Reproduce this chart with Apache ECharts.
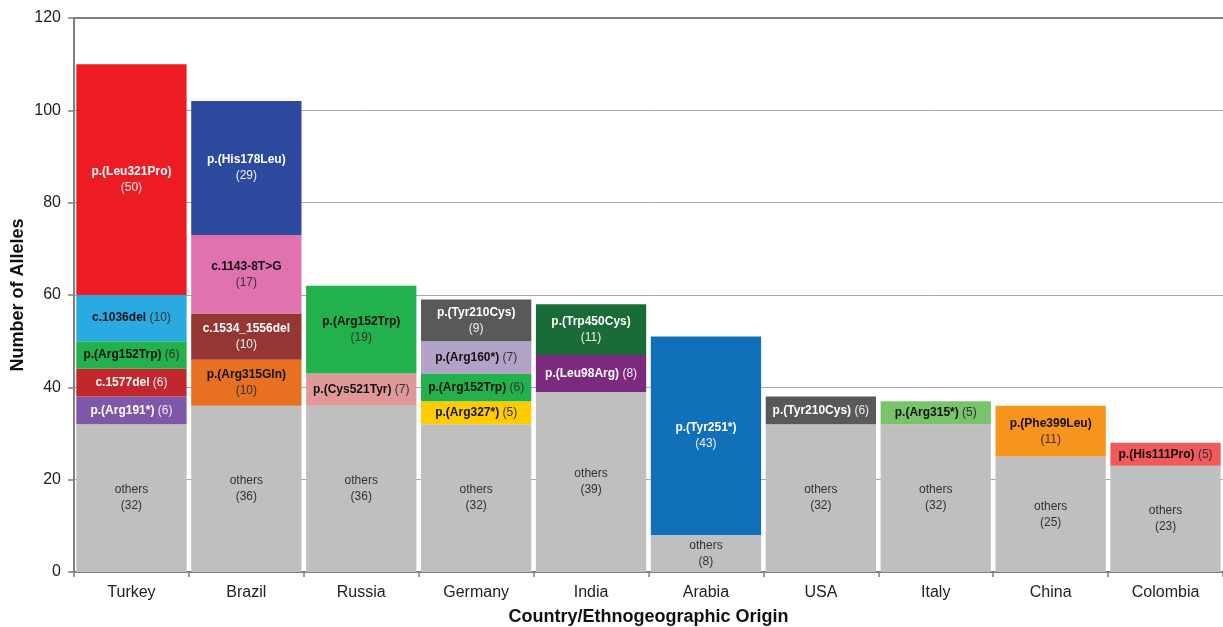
<!DOCTYPE html>
<html>
<head>
<meta charset="utf-8">
<script src="https://cdn.jsdelivr.net/npm/echarts@6/dist/echarts.min.js"></script>
<style>
  html, body { margin: 0; padding: 0; background: #fff; }
  #chart { width: 1223px; height: 627px; }
</style>
</head>
<body>
<div id="chart"></div>
<script>
// Allele counts by country; variants listed bottom-to-top above the "others" block
const countries = ['Turkey', 'Brazil', 'Russia', 'Germany', 'India', 'Arabia', 'USA', 'Italy', 'China', 'Colombia'];
const othersCounts = [32, 36, 36, 32, 39, 8, 32, 32, 25, 23];
const variantNames = [
  ['p.(Arg191*)', 'c.1577del', 'p.(Arg152Trp)', 'c.1036del', 'p.(Leu321Pro)'],
  ['p.(Arg315Gln)', 'c.1534_1556del', 'c.1143-8T>G', 'p.(His178Leu)'],
  ['p.(Cys521Tyr)', 'p.(Arg152Trp)'],
  ['p.(Arg327*)', 'p.(Arg152Trp)', 'p.(Arg160*)', 'p.(Tyr210Cys)'],
  ['p.(Leu98Arg)', 'p.(Trp450Cys)'],
  ['p.(Tyr251*)'],
  ['p.(Tyr210Cys)'],
  ['p.(Arg315*)'],
  ['p.(Phe399Leu)'],
  ['p.(His111Pro)']
];
const variantCounts = [
  [6, 6, 6, 10, 50],
  [10, 10, 17, 29],
  [7, 19],
  [5, 6, 7, 9],
  [8, 11],
  [43],
  [6],
  [5],
  [11],
  [5]
];
const yTicks = [0, 20, 40, 60, 80, 100, 120];

// Fill colour per variant, and which variants carry light text
const othersColor = '#BFBFBF';
const variantColors = {
  'p.(Leu321Pro)': '#ED1C24',
  'c.1036del': '#29ABE2',
  'p.(Arg152Trp)': '#22B14C',
  'c.1577del': '#C1272D',
  'p.(Arg191*)': '#7E57A8',
  'p.(His178Leu)': '#2E4A9E',
  'c.1143-8T>G': '#E072B0',
  'c.1534_1556del': '#943634',
  'p.(Arg315Gln)': '#E87022',
  'p.(Cys521Tyr)': '#E0999A',
  'p.(Tyr210Cys)': '#595959',
  'p.(Arg160*)': '#B3A2C7',
  'p.(Arg327*)': '#FFCC00',
  'p.(Trp450Cys)': '#196B38',
  'p.(Leu98Arg)': '#7D2A7E',
  'p.(Tyr251*)': '#1170BA',
  'p.(Arg315*)': '#77C46A',
  'p.(Phe399Leu)': '#F7941D',
  'p.(His111Pro)': '#F05A5B'
};
const lightText = new Set([
  'p.(Leu321Pro)', 'c.1577del', 'p.(Arg191*)', 'p.(His178Leu)', 'c.1534_1556del',
  'p.(Tyr210Cys)', 'p.(Trp450Cys)', 'p.(Leu98Arg)', 'p.(Tyr251*)'
]);

const FONT = '"Liberation Sans", Arial, Helvetica, sans-serif';

function variantItem(name, count) {
  const light = lightText.has(name);
  const wrap = count >= 9 && name.length > 9;
  const text = '{b|' + name + '}' + (wrap ? '\n' : ' ') + '{n|(' + count + ')}';
  return {
    value: count,
    name: name,
    itemStyle: { color: variantColors[name] },
    label: {
      show: true,
      position: 'inside',
      formatter: () => text,
      rich: {
        b: { fontFamily: FONT, fontSize: 12, fontWeight: 'bold', color: light ? '#ffffff' : '#111111', lineHeight: 16 },
        n: { fontFamily: FONT, fontSize: 12, color: light ? '#eeeeee' : '#333333', lineHeight: 16 }
      }
    }
  };
}

const maxLayers = Math.max(...variantNames.map(v => v.length));
const series = [];

series.push({
  type: 'bar',
  stack: 'alleles',
  barCategoryGap: '4%',
  data: othersCounts.map(c => ({
    value: c,
    itemStyle: { color: othersColor },
    label: {
      show: true,
      position: 'inside',
      formatter: () => '{o|others}\n{o|(' + c + ')}',
      rich: { o: { fontFamily: FONT, fontSize: 12, color: '#333333', lineHeight: 16 } }
    }
  }))
});

for (let k = 0; k < maxLayers; k++) {
  series.push({
    type: 'bar',
    stack: 'alleles',
    barCategoryGap: '4%',
    data: countries.map((_, i) =>
      k < variantNames[i].length ? variantItem(variantNames[i][k], variantCounts[i][k]) : '-'
    )
  });
}

const chart = echarts.init(document.getElementById('chart'));
chart.setOption({
  animation: false,
  backgroundColor: '#ffffff',
  grid: { left: 74, right: 0, top: 18, bottom: 55, outerBoundsMode: 'none', containLabel: false },
  xAxis: [
    {
      type: 'category',
      data: countries,
      axisLine: { lineStyle: { color: '#808080', width: 2 } },
      axisTick: { show: true, length: 5, lineStyle: { color: '#808080', width: 1.5 } },
      axisLabel: { fontFamily: FONT, fontSize: 16, color: '#222', margin: 13 },
      name: 'Country/Ethnogeographic Origin',
      nameLocation: 'middle',
      nameGap: 36,
      nameMoveOverlap: false,
      nameTextStyle: { fontFamily: FONT, fontSize: 18, fontWeight: 'bold', color: '#111' }
    },
    {
      type: 'category',
      position: 'top',
      data: countries,
      axisLine: { show: true, lineStyle: { color: '#808080', width: 2 } },
      axisTick: { show: false },
      axisLabel: { show: false }
    }
  ],
  yAxis: {
    type: 'value',
    min: yTicks[0],
    max: yTicks[yTicks.length - 1],
    interval: yTicks[1] - yTicks[0],
    axisLine: { show: true, lineStyle: { color: '#808080', width: 2 } },
    axisTick: { show: true, length: 6, lineStyle: { color: '#808080', width: 1.5 } },
    axisLabel: { fontFamily: FONT, fontSize: 16, color: '#222', margin: 13 },
    splitLine: { show: true, lineStyle: { color: '#A6A6A6', width: 1 } },
    name: 'Number of Alleles',
    nameLocation: 'middle',
    nameGap: 47,
    nameMoveOverlap: false,
    nameRotate: 90,
    nameTextStyle: { fontFamily: FONT, fontSize: 18, fontWeight: 'bold', color: '#111' }
  },
  series: series
});
</script>
</body>
</html>
